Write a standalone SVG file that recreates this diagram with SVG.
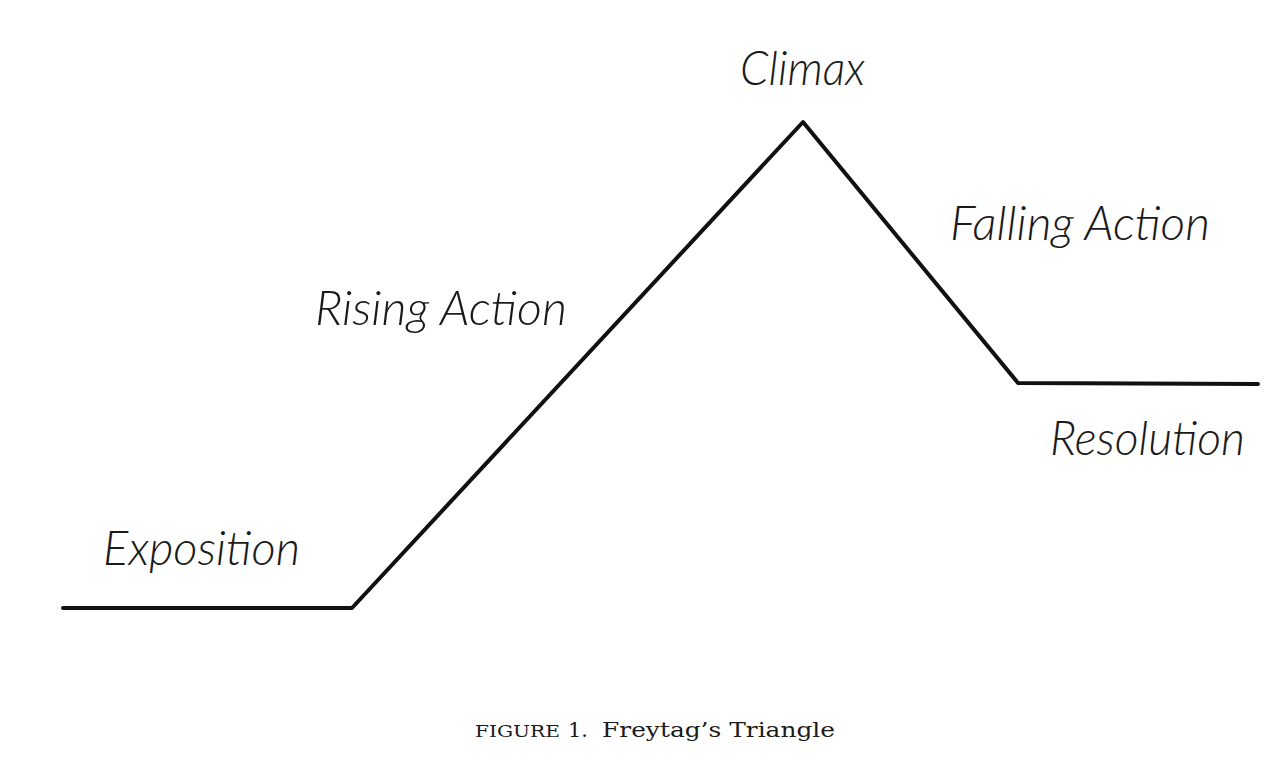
<svg xmlns="http://www.w3.org/2000/svg" width="1288" height="768" viewBox="0 0 1288 768">
  <style>
    .lbl { font-family: "Lato", "Open Sans", "Liberation Sans", sans-serif; font-style: italic; font-weight: 300; font-size: 48px; fill: #1a1a1a; }
    .cap { font-family: "DejaVu Serif", "Liberation Serif", serif; fill: #1a1a1a; }
    .plot { fill: none; stroke: #111; stroke-width: 4; stroke-linejoin: round; stroke-linecap: round; }
  </style>
  <rect width="1288" height="768" fill="#ffffff"/>
  <g id="connectors">
    <polyline class="plot" points="63,608 352,608 803,122 1018,383 1258,384"/>
  </g>
  <g id="exposition">
    <text class="lbl" x="103" y="565" textLength="197" lengthAdjust="spacingAndGlyphs">Exposition</text>
  </g>
  <g id="rising-action">
    <text class="lbl" x="315" y="325" textLength="252" lengthAdjust="spacingAndGlyphs">Rising Action</text>
  </g>
  <g id="climax">
    <text class="lbl" x="740" y="85" textLength="125" lengthAdjust="spacingAndGlyphs">Climax</text>
  </g>
  <g id="falling-action">
    <text class="lbl" x="950" y="240" textLength="260" lengthAdjust="spacingAndGlyphs">Falling Action</text>
  </g>
  <g id="resolution">
    <text class="lbl" x="1050" y="455" textLength="195" lengthAdjust="spacingAndGlyphs">Resolution</text>
  </g>
  <g id="caption">
    <text class="cap" x="475" y="737" font-size="16.5" textLength="85" lengthAdjust="spacingAndGlyphs">FIGURE</text>
    <text class="cap" x="568" y="737" font-size="21">1.</text>
    <text class="cap" x="602" y="737" font-size="21" textLength="233" lengthAdjust="spacingAndGlyphs">Freytag’s Triangle</text>
  </g>
</svg>
